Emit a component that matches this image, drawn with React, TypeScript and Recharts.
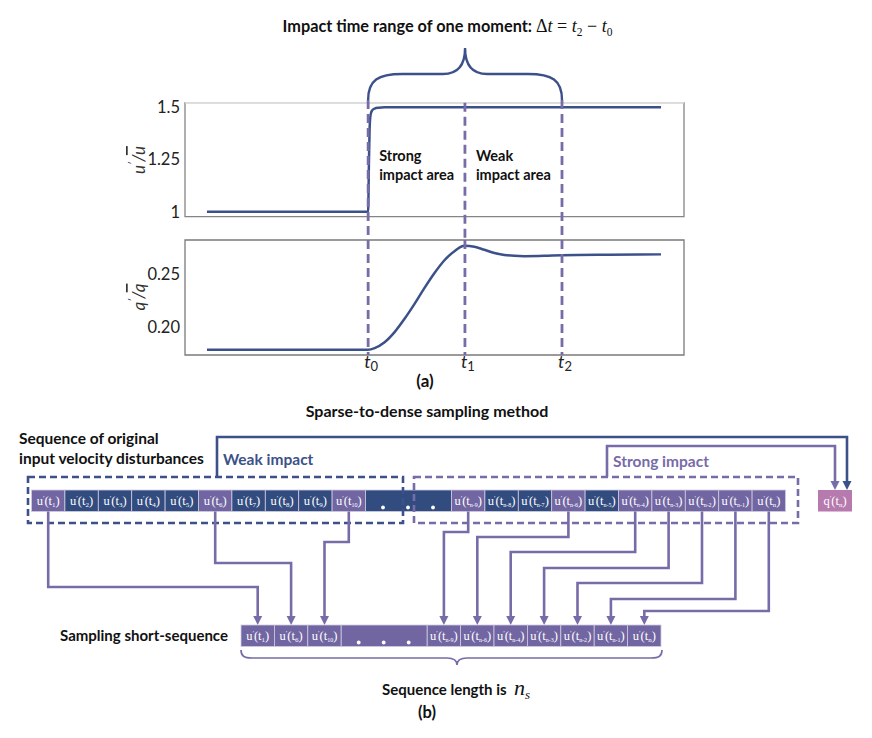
import React from "react";
import { LineChart, Line, XAxis, YAxis, ReferenceLine, ReferenceArea } from "recharts";

// ---------- data (part a) ----------
const uTime = [4.4, 36.7, 36.85, 37.0, 37.2, 37.5, 38.0, 38.8, 40.0, 95.4];
const uValue = [1.0, 1.0, 1.22, 1.4, 1.465, 1.485, 1.494, 1.498, 1.5, 1.5];

const qTime = [4.4, 36.7, 38, 40, 42, 44, 46, 48, 50, 52, 54, 56, 58, 60, 62, 64, 66, 68, 72, 75.55, 85, 95.4];
const qValue = [0.179, 0.179, 0.1805, 0.186, 0.1955, 0.208, 0.222, 0.237, 0.251, 0.263, 0.2715, 0.2765, 0.2757, 0.2728, 0.2698, 0.268, 0.2671, 0.2668, 0.2671, 0.2677, 0.2682, 0.2685];

const uTicks = [1, 1.25, 1.5];
const uTickLabels = ["1", "1.25", "1.5"];
const qTicks = [0.2, 0.25];
const qTickLabels = ["0.20", "0.25"];

const tMarks = [36.7, 56.1, 75.55];
const tLabels = ["0", "1", "2"];

// ---------- data (part b) ----------
const topSubs = ["1", "2", "3", "4", "5", "6", "7", "8", "9", "10", "", "n-9", "n-8", "n-7", "n-6", "n-5", "n-4", "n-3", "n-2", "n-1", "n"];
const topSampled = [1, 0, 0, 0, 0, 1, 0, 0, 0, 1, 0, 1, 0, 0, 1, 0, 1, 1, 1, 1, 1];
const bottomSubs = ["1", "6", "10", "", "n-9", "n-6", "n-4", "n-3", "n-2", "n-1", "n"];
const elbowLevels = [587, 563, 542, 532, 537, 552, 568, 583, 599, 611];

// ---------- styles ----------
const BLUE = "#3c5189";
const PURPLE = "#776ba8";
const CELL_PURPLE = "#7166a2";
const CELL_DARK = "#324c80";
const Q_PINK = "#b67aae";
const FONT = "Lato, 'Open Sans', sans-serif";
const SERIF = "'Liberation Serif', 'DejaVu Serif', serif";

const X_DOMAIN: [number, number] = [0, 100];
const U_DOMAIN: [number, number] = [0.976, 1.522];
const Q_DOMAIN: [number, number] = [0.174, 0.282];
const U_TOP_EXT = 1.535;
const U_BOTTOM_EXT = 0.8644;

const uData = uTime.map((t, i) => ({ t, v: uValue[i] }));
const qData = qTime.map((t, i) => ({ t, v: qValue[i] }));

const DASH = "9 5";
const DASH_W = 2.8;

const braceShape = (p: any) => {
  const xa = Math.min(p.x1, p.x2);
  const xb = Math.max(p.x1, p.x2);
  const cx = (xa + xb) / 2;
  const yb = p.y1;
  const ya = yb - 26;
  const yp = yb - 52;
  const d = `M${xa},${yb} C${xa},${ya + 6} ${xa + 10},${ya} ${xa + 34},${ya} L${cx - 22},${ya} C${cx - 8},${ya} ${cx},${ya - 8} ${cx},${yp} C${cx},${ya - 8} ${cx + 8},${ya} ${cx + 22},${ya} L${xb - 34},${ya} C${xb - 10},${ya} ${xb},${ya + 6} ${xb},${yb}`;
  return <path d={d} fill="none" stroke={BLUE} strokeWidth={2.4} />;
};

const areaLabel = (l1: string, l2: string) => (p: any) => {
  const vb = p.viewBox || {};
  return (
    <text x={vb.x + 11} y={vb.y + 58} fontFamily={FONT} fontWeight={700} fontSize={14.5} fill="#111">
      <tspan x={vb.x + 11}>{l1}</tspan>
      <tspan x={vb.x + 11} dy={19}>{l2}</tspan>
    </text>
  );
};

const yTick = (labels: string[], ticks: number[]) => (p: any) => {
  const idx = ticks.findIndex((t) => Math.abs(t - p.payload.value) < 1e-9);
  return (
    <text x={p.x + 5} y={p.y} dy="0.36em" textAnchor="end" fontFamily={FONT} fontSize={16.5} fill="#222">
      {labels[idx] ?? p.payload.value}
    </text>
  );
};

const tTick = (p: any) => {
  const idx = tMarks.findIndex((t) => Math.abs(t - p.payload.value) < 1e-9);
  return (
    <text x={p.x + 3} y={p.y + 5} textAnchor="middle" fontFamily={FONT} fontSize={18} fill="#222">
      <tspan fontStyle="italic">t</tspan>
      <tspan fontSize={13} dy={3}>{tLabels[idx]}</tspan>
    </text>
  );
};

function TopChart() {
  return (
    <LineChart width={872} height={240} data={uData} margin={{ top: 102.7, right: 188, bottom: 23.3, left: 145 }}>
      <XAxis dataKey="t" type="number" domain={X_DOMAIN} hide allowDataOverflow />
      <YAxis type="number" domain={U_DOMAIN} ticks={uTicks} width={40} axisLine={false} tickLine={false} tickMargin={4} tick={yTick(uTickLabels, uTicks)} allowDataOverflow />
      <ReferenceArea x1={X_DOMAIN[0]} x2={X_DOMAIN[1]} y1={U_DOMAIN[0]} y2={U_DOMAIN[1]} fill="none" stroke="#858585" strokeWidth={1.3} />
      <ReferenceLine y={U_DOMAIN[1]} stroke="#dcdcdc" strokeWidth={1.5} />
      <ReferenceArea x1={tMarks[0]} x2={tMarks[1]} y1={U_DOMAIN[0]} y2={U_DOMAIN[1]} fill="none" stroke="none" label={areaLabel("Strong", "impact area")} />
      <ReferenceArea x1={tMarks[1]} x2={tMarks[2]} y1={U_DOMAIN[0]} y2={U_DOMAIN[1]} fill="none" stroke="none" label={areaLabel("Weak", "impact area")} />
      <Line type="monotone" dataKey="v" stroke={BLUE} strokeWidth={2.5} dot={false} isAnimationActive={false} />
      <ReferenceLine segment={[{ x: tMarks[0], y: U_TOP_EXT }, { x: tMarks[0], y: U_BOTTOM_EXT }]} ifOverflow="visible" stroke={PURPLE} strokeWidth={DASH_W} strokeDasharray={DASH} />
      <ReferenceLine segment={[{ x: tMarks[1], y: U_DOMAIN[1] }, { x: tMarks[1], y: U_BOTTOM_EXT }]} ifOverflow="visible" stroke={PURPLE} strokeWidth={DASH_W} strokeDasharray={DASH} />
      <ReferenceLine segment={[{ x: tMarks[2], y: U_TOP_EXT }, { x: tMarks[2], y: U_BOTTOM_EXT }]} ifOverflow="visible" stroke={PURPLE} strokeWidth={DASH_W} strokeDasharray={DASH} />
      <ReferenceLine segment={[{ x: tMarks[0], y: U_TOP_EXT }, { x: tMarks[2], y: U_TOP_EXT }]} ifOverflow="visible" stroke={BLUE} shape={braceShape} />
    </LineChart>
  );
}

function BottomChart() {
  return (
    <LineChart width={872} height={160} data={qData} margin={{ top: 4, right: 188, bottom: 11, left: 145 }}>
      <XAxis dataKey="t" type="number" domain={X_DOMAIN} ticks={tMarks} height={30} axisLine={false} tickLine={false} tick={tTick} interval={0} allowDataOverflow />
      <YAxis type="number" domain={Q_DOMAIN} ticks={qTicks} width={40} axisLine={false} tickLine={false} tickMargin={4} tick={yTick(qTickLabels, qTicks)} allowDataOverflow />
      <ReferenceArea x1={X_DOMAIN[0]} x2={X_DOMAIN[1]} y1={Q_DOMAIN[0]} y2={Q_DOMAIN[1]} fill="none" stroke="#7a7a7a" strokeWidth={1.3} />
      <Line type="monotone" dataKey="v" stroke={BLUE} strokeWidth={2.5} dot={false} isAnimationActive={false} />
      {tMarks.map((t) => (
        <ReferenceLine key={t} segment={[{ x: t, y: Q_DOMAIN[1] }, { x: t, y: Q_DOMAIN[0] }]} ifOverflow="visible" stroke={PURPLE} strokeWidth={DASH_W} strokeDasharray={DASH} />
      ))}
    </LineChart>
  );
}

// ---------- part b diagram ----------
const CELL_W = 33.4;
const CELL_H = 21.5;
const GAP_W = 86;
const TOP_X0 = 31.5;
const TOP_Y = 490;
const BOT_X0 = 241;
const BOT_Y = 625;

function cellX(x0: number, subs: string[], i: number) {
  const gap = subs.indexOf("");
  if (i <= gap) return x0 + i * CELL_W;
  return x0 + (i - 1) * CELL_W + GAP_W;
}
function cellW(subs: string[], i: number) {
  return subs[i] === "" ? GAP_W : CELL_W;
}

function CellLabel({ cx, y, sub, letter }: { cx: number; y: number; sub: string; letter: string }) {
  const long = sub.length > 1;
  return (
    <text x={cx} y={y} textAnchor="middle" fontFamily={SERIF} fontSize={12.5} fill="#fff">
      {letter}
      <tspan fontSize={7} dy={-5}>′</tspan>
      <tspan dy={5}>{"(t"}</tspan>
      <tspan fontSize={long ? 6 : 7} dy={2}>{sub}</tspan>
      <tspan dy={-2}>)</tspan>
    </text>
  );
}

function Row({ x0, y, subs, colorOf }: { x0: number; y: number; subs: string[]; colorOf: (i: number) => string }) {
  return (
    <g>
      {subs.map((s, i) => {
        const x = cellX(x0, subs, i);
        const w = cellW(subs, i);
        return (
          <g key={i}>
            <rect x={x} y={y} width={w} height={CELL_H} fill={colorOf(i)} stroke="#cfcbe0" strokeWidth={0.8} />
            {s === "" ? (
              [17.5, 42.5, 67.5].map((dx) => <circle key={dx} cx={x + dx} cy={y + 17.5} r={1.9} fill="#fff" />)
            ) : (
              <CellLabel cx={x + w / 2} y={y + 15} sub={s} letter="u" />
            )}
          </g>
        );
      })}
    </g>
  );
}

function Arrow({ x, y, color }: { x: number; y: number; color: string }) {
  return <polygon points={`${x - 4.5},${y - 9} ${x + 4.5},${y - 9} ${x},${y}`} fill={color} />;
}

function PartB() {
  const sampledTop = topSampled.map((s, i) => (s ? i : -1)).filter((i) => i >= 0);
  const bottomIdx = bottomSubs.map((s, i) => (s === "" ? -1 : i)).filter((i) => i >= 0);
  const qX = 818;
  const weakX = 217;
  const strongX = 607;
  return (
    <g>
      <text x={427} y={417} textAnchor="middle" fontFamily={FONT} fontWeight={700} fontSize={16} fill="#111">Sparse-to-dense sampling method</text>
      <text x={19} y={444} fontFamily={FONT} fontWeight={700} fontSize={15.5} fill="#111">Sequence of original</text>
      <text x={19} y={464} fontFamily={FONT} fontWeight={700} fontSize={15.5} fill="#111">input velocity disturbances</text>
      <text x={223} y={465} fontFamily={FONT} fontWeight={700} fontSize={15.5} fill={BLUE}>Weak impact</text>
      <text x={613} y={467} fontFamily={FONT} fontWeight={700} fontSize={15.5} fill={PURPLE}>Strong impact</text>

      {/* connectors to q */}
      <polyline points={`${weakX},477 ${weakX},437 847,437 847,482`} fill="none" stroke={BLUE} strokeWidth={2.6} />
      <Arrow x={847} y={490} color={BLUE} />
      <polyline points={`${strongX},477 ${strongX},446 835,446 835,482`} fill="none" stroke={PURPLE} strokeWidth={2.6} />
      <Arrow x={835} y={490} color={PURPLE} />

      <Row x0={TOP_X0} y={TOP_Y} subs={topSubs} colorOf={(i) => (topSampled[i] ? CELL_PURPLE : CELL_DARK)} />
      <rect x={qX} y={TOP_Y} width={34} height={CELL_H} fill={Q_PINK} />
      <CellLabel cx={qX + 17} y={TOP_Y + 15} sub="n" letter="q" />

      <rect x={28} y={477} width={375} height={46} fill="none" stroke={BLUE} strokeWidth={2.6} strokeDasharray="7 4" />
      <rect x={414} y={477} width={384} height={46} fill="none" stroke={PURPLE} strokeWidth={2.6} strokeDasharray="7 4" />

      {/* sampling arrows */}
      {sampledTop.map((ti, k) => {
        const bi = bottomIdx[k];
        const tx = cellX(TOP_X0, topSubs, ti) + CELL_W / 2;
        const bx = cellX(BOT_X0, bottomSubs, bi) + CELL_W / 2;
        const ey = elbowLevels[k];
        return (
          <g key={k}>
            <polyline points={`${tx},${TOP_Y + CELL_H} ${tx},${ey} ${bx},${ey} ${bx},${BOT_Y - 8}`} fill="none" stroke={PURPLE} strokeWidth={2.6} />
            <Arrow x={bx} y={BOT_Y} color={PURPLE} />
          </g>
        );
      })}

      <text x={60} y={641} fontFamily={FONT} fontWeight={700} fontSize={15} fill="#111">Sampling short-sequence</text>
      <Row x0={BOT_X0} y={BOT_Y} subs={bottomSubs} colorOf={() => CELL_PURPLE} />

      {/* bottom brace */}
      <path d="M241,650 C241,656 244,658 252,658 L447,658 C453,658 457,660 457,665 C457,660 461,658 467,658 L651,658 C659,658 662,656 662,650" fill="none" stroke={PURPLE} strokeWidth={1.7} />

      <text x={382} y={695} fontFamily={FONT} fontWeight={700} fontSize={15} fill="#111">Sequence length is</text>
      <text x={514} y={695} fontFamily={SERIF} fontStyle="italic" fontSize={22} fill="#111">n<tspan fontSize={13} dy={4}>s</tspan></text>
      <text x={427} y={718} textAnchor="middle" fontFamily={FONT} fontWeight={700} fontSize={16.5} fill="#111">(b)</text>
    </g>
  );
}

function Overlay() {
  return (
    <svg width={872} height={738} style={{ position: "absolute", left: 0, top: 0 }}>
      <text x={532} y={32} textAnchor="end" fontFamily={FONT} fontWeight={700} fontSize={16.3} fill="#111">Impact time range of one moment:</text>
      <text x={536} y={32} fontFamily={SERIF} fontSize={18} fill="#111">
        Δ<tspan fontStyle="italic">t</tspan> = <tspan fontStyle="italic">t</tspan><tspan fontSize={11.5} dy={4}>2</tspan><tspan dy={-4}> − </tspan><tspan fontStyle="italic">t</tspan><tspan fontSize={11.5} dy={4}>0</tspan>
      </text>
      <text transform="rotate(-90 138 160)" x={138} y={160} textAnchor="middle" dominantBaseline="central" fontFamily={FONT} fontStyle="italic" fontSize={17} fill="#333">
        u<tspan fontSize={10} dy={-6}>′</tspan><tspan dy={6}>/</tspan><tspan style={{ textDecoration: "overline" }}>u</tspan>
      </text>
      <text transform="rotate(-90 138 297)" x={138} y={297} textAnchor="middle" dominantBaseline="central" fontFamily={FONT} fontStyle="italic" fontSize={17} fill="#333">
        q<tspan fontSize={10} dy={-6}>′</tspan><tspan dy={6}>/</tspan><tspan style={{ textDecoration: "overline" }}>q</tspan>
      </text>
      <text x={425} y={387} textAnchor="middle" fontFamily={FONT} fontWeight={700} fontSize={17} fill="#111">(a)</text>
      <PartB />
    </svg>
  );
}

export default function App() {
  return (
    <div style={{ position: "absolute", left: 0, top: 0, width: 872, height: 738, background: "#fff" }}>
      <Overlay />
      <div style={{ position: "absolute", left: 0, top: 0 }}>
        <TopChart />
      </div>
      <div style={{ position: "absolute", left: 0, top: 236 }}>
        <BottomChart />
      </div>
    </div>
  );
}
